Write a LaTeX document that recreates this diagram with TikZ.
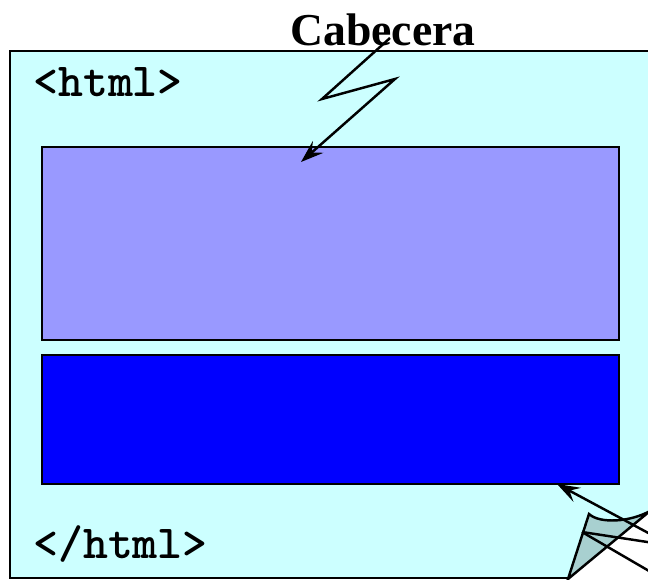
\documentclass[tikz,border=0pt]{standalone}
\usepackage{fontspec}
\setmainfont{Liberation Serif}
\usetikzlibrary{arrows.meta}

\definecolor{pagecyan}{RGB}{204,255,255}
\definecolor{headviolet}{RGB}{153,153,255}
\definecolor{bodyblue}{RGB}{0,0,255}
\definecolor{foldteal}{RGB}{168,208,208}

\tikzset{
  tagtext/.style = {font=\ttfamily\bfseries\fontsize{27}{30}\selectfont, anchor=base west, inner sep=0pt},
  block/.style   = {draw=black, line width=1.2pt},
  pointer/.style = {black, line width=1.4pt},
}

\begin{document}
\begin{tikzpicture}[x=0.02cm, y=-0.02cm]
            \useasboundingbox (0,0) rectangle (648,580);
            \clip (0,0) rectangle (648,580);
            % page
            \filldraw[fill=pagecyan, draw=black, line width=1.4pt] (10,51) rectangle (700,578);
            \node[tagtext] (open) at (33,97) {<html>};
            \node[tagtext] (close) at (33,558) {</html>};

            % head and body
            \node[block, fill=headviolet, minimum width=577*0.02cm, minimum height=193*0.02cm] (head) at (330.5,243.5) {};
            \node[block, fill=bodyblue, minimum width=577*0.02cm, minimum height=129*0.02cm] (body) at (330.5,419.5) {};

            % title and zigzag arrow
            \node[font=\bfseries\fontsize{26}{30}\selectfont, inner sep=0pt] (cab) at (383,30) {Cabecera};
            \coordinate (z1) at (390,38);
            \coordinate (z2) at (322,99);
            \coordinate (z3) at (395,79);
            \coordinate (headtip) at (301,162);
            \draw[pointer, -{Stealth[length=13pt, width=9pt, inset=5pt]}] (z1) -- (z2) -- (z3) -- (headtip);

            % folded corner
            \fill[white] (568,579) -- (650,511) -- (650,580) -- cycle;
            \coordinate (fb) at (568,579);
            \coordinate (fa) at (589,514);
            \coordinate (fr) at (650,511);
            \filldraw[fill=foldteal, draw=black, line width=1.4pt] (fb) -- (fa) .. controls (600,524) and (630,522) .. (fr) -- cycle;

            % pointers from the right
            \coordinate (bodytip) at (557,484);
            \coordinate (r1) at (680,550);
            \coordinate (fp) at (582,532);
            \coordinate (r2) at (680,547);
            \coordinate (r3) at (680,589);
            \draw[pointer, -{Stealth[length=13pt, width=9pt, inset=5pt]}] (r1) -- (bodytip);
            \draw[pointer] (fp) -- (r2);
            \draw[pointer] (fp) -- (r3);
\end{tikzpicture}
\end{document}
